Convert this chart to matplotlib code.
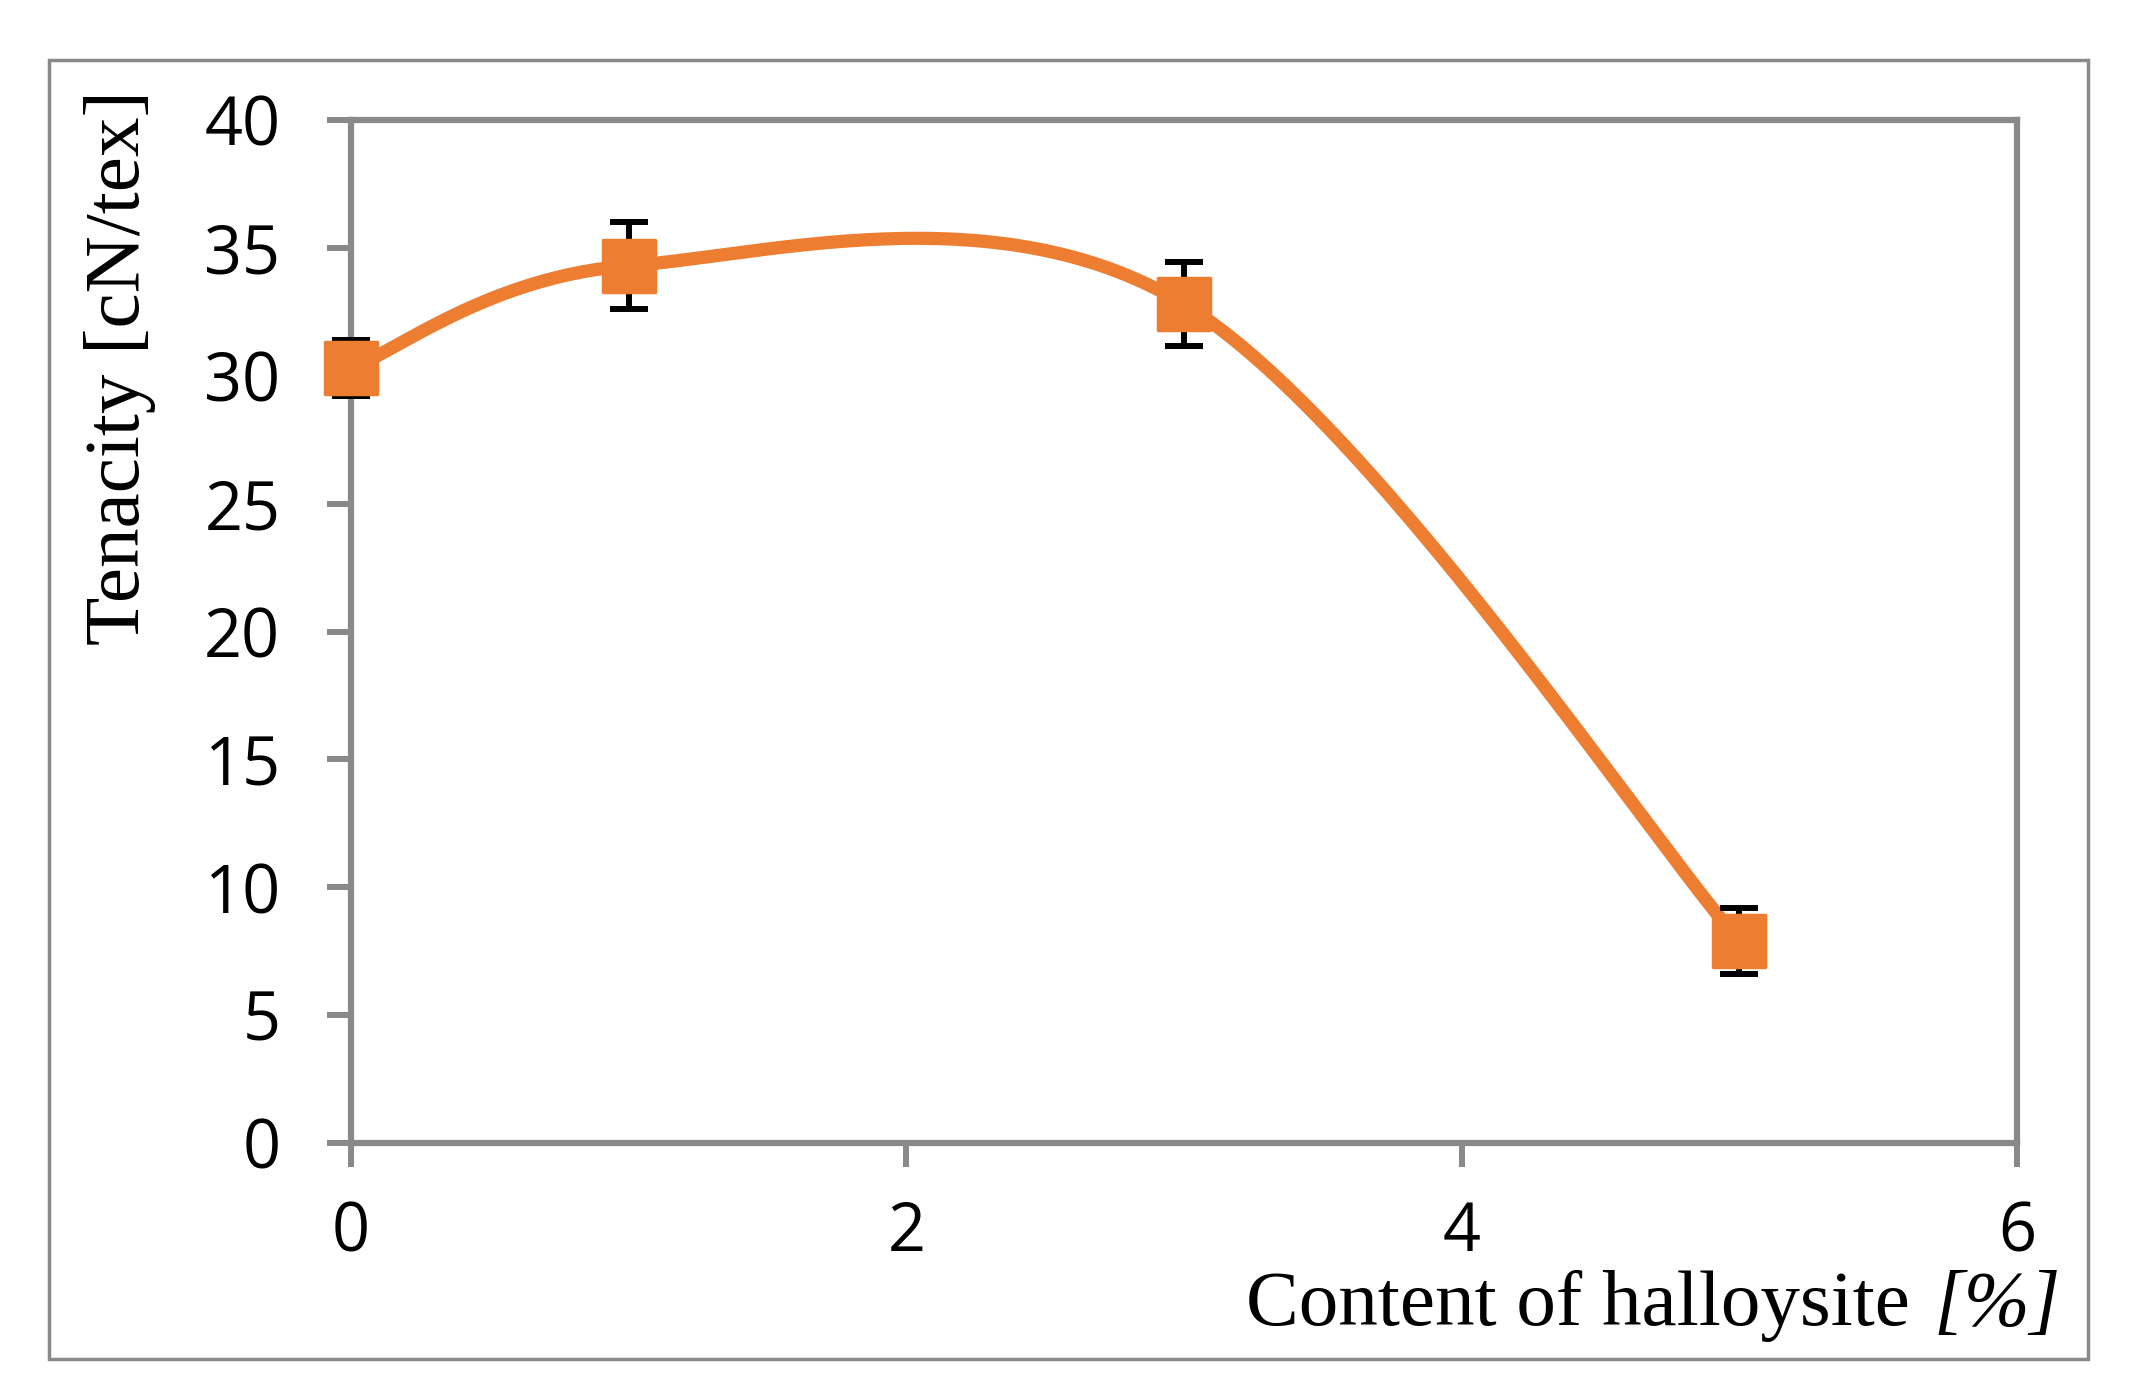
import numpy as np
import matplotlib
matplotlib.use("Agg")
import matplotlib.pyplot as plt
from matplotlib.patches import Rectangle
from matplotlib.markers import MarkerStyle

# data
halloysite = [0, 1, 3, 5]
tenacity = [30.3, 34.3, 32.8, 7.9]
tenacity_err = [1.1, 1.7, 1.65, 1.3]

x_ticks = [0, 2, 4, 6]
y_ticks = [0, 5, 10, 15, 20, 25, 30, 35, 40]

orange = "#ED7D31"
gray = "#898989"


def smooth_line(xs, ys, n=60):
    # spreadsheet-style smoothed line: cubic bezier through the points
    p = np.column_stack([xs, ys]).astype(float)
    pts = []
    for i in range(len(p) - 1):
        prev = p[max(i - 1, 0)]
        nxt = p[min(i + 2, len(p) - 1)]
        c1 = p[i] + (p[i + 1] - prev) / 6
        c2 = p[i + 1] - (nxt - p[i]) / 6
        t = np.linspace(0, 1, n)[:, None]
        seg = ((1 - t) ** 3) * p[i] + 3 * ((1 - t) ** 2) * t * c1 \
            + 3 * (1 - t) * t ** 2 * c2 + t ** 3 * p[i + 1]
        pts.append(seg)
    pts = np.vstack(pts)
    return pts[:, 0], pts[:, 1]


fig = plt.figure(figsize=(21.33, 13.97), dpi=100)
fig.patches.append(Rectangle((49 / 2133, 1 - 1359 / 1397), (2088 - 49) / 2133, (1359 - 60) / 1397,
                             transform=fig.transFigure, fill=False, edgecolor=gray, linewidth=2.5))

ax = fig.add_axes([0.1646, 0.1818, 0.9456 - 0.1646, 0.9141 - 0.1818])

sx, sy = smooth_line(halloysite, tenacity)
ax.plot(sx, sy, color=orange, linewidth=9.5, solid_capstyle="round", zorder=2)
eb = ax.errorbar(halloysite, tenacity, yerr=tenacity_err, fmt="none", ecolor="black",
                 elinewidth=4.3, capsize=14, capthick=4.3, zorder=3)
for art in eb.lines[1] + eb.lines[2]:
    art.set_clip_on(False)
ax.plot(halloysite, tenacity, linestyle="none", marker=MarkerStyle("s", joinstyle="round"),
        markersize=38, markerfacecolor=orange, markeredgecolor=orange,
        markeredgewidth=2.5, zorder=4, clip_on=False)

ax.set_xlim(0, 6)
ax.set_ylim(0, 40)
ax.set_xticks(x_ticks)
ax.set_yticks(y_ticks)

for s in ax.spines.values():
    s.set_color(gray)
    s.set_linewidth(4.5)

ax.tick_params(axis="both", direction="out", color=gray, width=4.3, length=17,
               labelsize=48, labelcolor="black")
ax.tick_params(axis="x", pad=24)
ax.tick_params(axis="y", pad=34)
for lab in ax.get_xticklabels() + ax.get_yticklabels():
    lab.set_fontfamily("Open Sans")

fig.text(2061 / 2133, 1 - 1306 / 1397, "Content of halloysite ", fontsize=57,
         family="Liberation Serif", ha="right", va="center")
xl = fig.text(2061 / 2133, 1 - 1306 / 1397, "[%]", fontsize=57, family="Liberation Serif",
              style="italic", ha="right", va="center")
fig.canvas.draw()
bb = xl.get_window_extent()
fig.texts[0].set_x((bb.x0 - 4) / fig.bbox.width)

fig.text(120 / 2133, 1 - 90 / 1397, "Tenacity [cN/tex]", fontsize=57,
         family="Liberation Serif", rotation=90, ha="center", va="top")

fig.savefig("out.png", dpi=100)
